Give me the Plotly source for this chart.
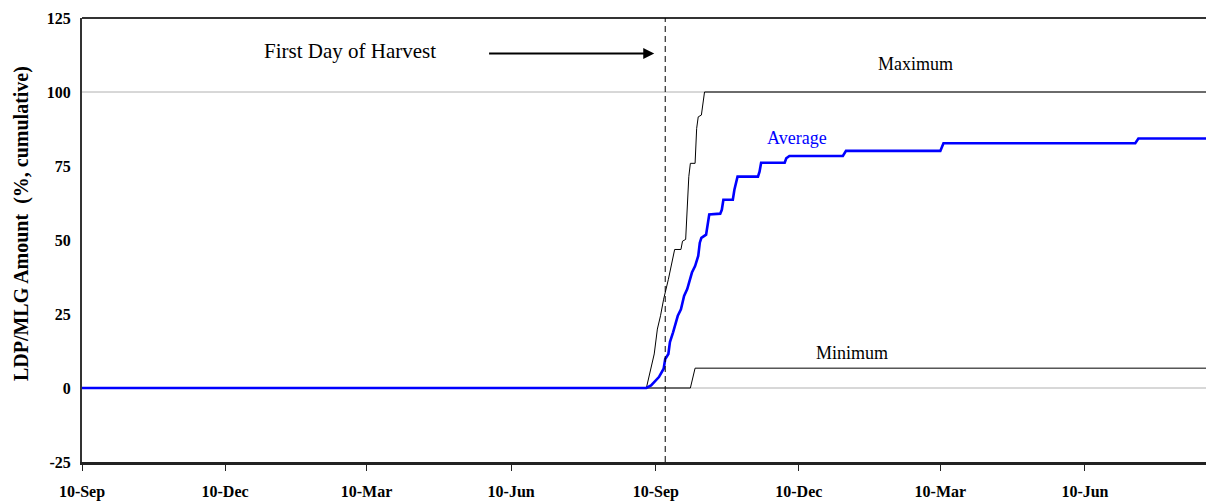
import plotly.graph_objects as go

# Maximum series
max_dates = ["2001-09-10", "2002-09-04", "2002-09-09", "2002-09-11", "2002-09-13", "2002-09-15",
             "2002-09-18", "2002-09-20", "2002-09-22", "2002-09-26", "2002-09-27", "2002-09-29",
             "2002-09-30", "2002-10-01", "2002-10-02", "2002-10-05", "2002-10-06", "2002-10-07",
             "2002-10-09", "2002-10-10", "2002-10-11", "2003-08-27"]
max_vals = [0, 0, 11.5, 19.9, 24.4, 30.0, 36.7, 41.2, 46.8, 46.8, 49.6, 50.2,
            59.0, 71.4, 75.9, 75.9, 87.7, 91.6, 92.2, 96.1, 100, 100]

# Minimum series
min_dates = ["2001-09-10", "2002-10-02", "2002-10-05", "2003-08-27"]
min_vals = [0, 0, 6.7, 6.7]

# Average series
avg_dates = ["2001-09-10", "2002-09-04", "2002-09-07", "2002-09-10", "2002-09-12", "2002-09-15",
             "2002-09-16", "2002-09-18", "2002-09-19", "2002-09-21", "2002-09-23", "2002-09-24",
             "2002-09-26", "2002-09-28", "2002-09-30", "2002-10-02", "2002-10-03", "2002-10-05",
             "2002-10-07", "2002-10-08", "2002-10-09", "2002-10-12", "2002-10-13", "2002-10-14",
             "2002-10-21", "2002-10-22", "2002-10-23", "2002-10-29", "2002-10-30", "2002-11-01",
             "2002-11-14", "2002-11-15", "2002-11-16", "2002-12-01", "2002-12-02", "2002-12-04",
             "2003-01-07", "2003-01-09", "2003-03-10", "2003-03-12", "2003-07-12", "2003-07-14",
             "2003-08-27"]
avg_vals = [0, 0, 0.9, 2.6, 3.7, 6.5, 9.8, 11.5, 15.5, 18.8, 22.2, 24.4,
            26.6, 31.1, 33.4, 36.7, 39.0, 41.2, 44.6, 49.1, 50.7, 51.8, 54.6, 58.6,
            58.9, 60.2, 63.6, 63.6, 67.0, 71.4, 71.4, 73.1, 76.1, 76.1, 77.6, 78.4,
            78.4, 80.1, 80.1, 82.7, 82.7, 84.3, 84.3]

harvest_date = "2002-09-16"
tick_dates = ["2001-09-10", "2001-12-10", "2002-03-10", "2002-06-10",
              "2002-09-10", "2002-12-10", "2003-03-10", "2003-06-10"]
tick_labels = ["10-Sep", "10-Dec", "10-Mar", "10-Jun", "10-Sep", "10-Dec", "10-Mar", "10-Jun"]
y_ticks = [-25, 0, 25, 50, 75, 100, 125]
y_labels = ["-25", "0", "25", "50", "75", "100", "125"]
x_range = ["2001-09-10", "2003-08-26"]
y_title = "LDP/MLG Amount  (%, cumulative)"

font = "Liberation Serif"

fig = go.Figure()
fig.add_trace(go.Scatter(x=min_dates, y=min_vals, mode="lines",
                         line=dict(color="black", width=1), name="Minimum"))
fig.add_trace(go.Scatter(x=max_dates, y=max_vals, mode="lines",
                         line=dict(color="black", width=1), name="Maximum"))
fig.add_trace(go.Scatter(x=avg_dates, y=avg_vals, mode="lines",
                         line=dict(color="#0000FF", width=2.6), name="Average"))

# gridline at 100 and zero line
fig.add_shape(type="line", xref="paper", x0=0, x1=1, yref="y", y0=100, y1=100,
              line=dict(color="#b0b0b0", width=1), layer="below")
fig.add_shape(type="line", xref="paper", x0=0, x1=1, yref="y", y0=0, y1=0,
              line=dict(color="#b0b0b0", width=1), layer="below")
# top border
fig.add_shape(type="line", xref="paper", x0=0, x1=1, yref="paper", y0=1, y1=1,
              line=dict(color="#333333", width=2))
# harvest dashed line
fig.add_shape(type="line", xref="x", x0=harvest_date, x1=harvest_date, yref="paper", y0=0, y1=1,
              line=dict(color="black", width=1, dash="6px,4px"))

# y-axis title (placed as rotated text)
fig.add_annotation(x=-0.0543, y=0.538, xref="paper", yref="paper", text=y_title,
                   textangle=-90, showarrow=False, xanchor="center", yanchor="middle",
                   font=dict(family=font, size=20, color="black", weight="bold"))

fig.add_annotation(x=0.160, y=114, xref="paper", yref="y", text="First Day of Harvest",
                   showarrow=False, xanchor="left", yanchor="middle",
                   font=dict(family=font, size=21, color="black"))
fig.add_annotation(x="2002-09-09", y=113, xref="x", yref="y",
                   ax="2002-05-26", ay=113, axref="x", ayref="y",
                   text="", showarrow=True, standoff=0,
                   arrowhead=2, arrowsize=1.1, arrowwidth=2, arrowcolor="black")
fig.add_annotation(x="2003-02-22", y=109.3, xref="x", yref="y", text="Maximum",
                   showarrow=False, font=dict(family=font, size=18, color="black"))
fig.add_annotation(x="2002-12-09", y=84.4, xref="x", yref="y", text="Average",
                   showarrow=False, font=dict(family=font, size=18, color="#0000FF"))
fig.add_annotation(x="2003-01-13", y=11.9, xref="x", yref="y", text="Minimum",
                   showarrow=False, font=dict(family=font, size=18, color="black"))

fig.update_layout(
    width=1206, height=503,
    margin=dict(l=82, r=0, t=18, b=41),
    paper_bgcolor="white", plot_bgcolor="white",
    showlegend=False,
    font=dict(family=font, color="black"),
    xaxis=dict(type="date", range=x_range, tickvals=tick_dates, ticktext=tick_labels,
               showgrid=False, zeroline=False, showline=True, linecolor="#222222", linewidth=3,
               ticks="outside", ticklen=6, tickcolor="#222222", tickwidth=1,
               ticklabelstandoff=7,
               tickfont=dict(family=font, size=16, color="black", weight="bold")),
    yaxis=dict(range=[-25, 125], tickvals=y_ticks, ticktext=y_labels, showgrid=False, zeroline=False,
               showline=True, linecolor="#333333", linewidth=2, ticks="",
               ticklabelstandoff=6,
               tickfont=dict(family=font, size=16, color="black", weight="bold")),
)

fig.write_html("out.html", config={"displayModeBar": False},
               post_script="document.body.style.margin='0px';")
